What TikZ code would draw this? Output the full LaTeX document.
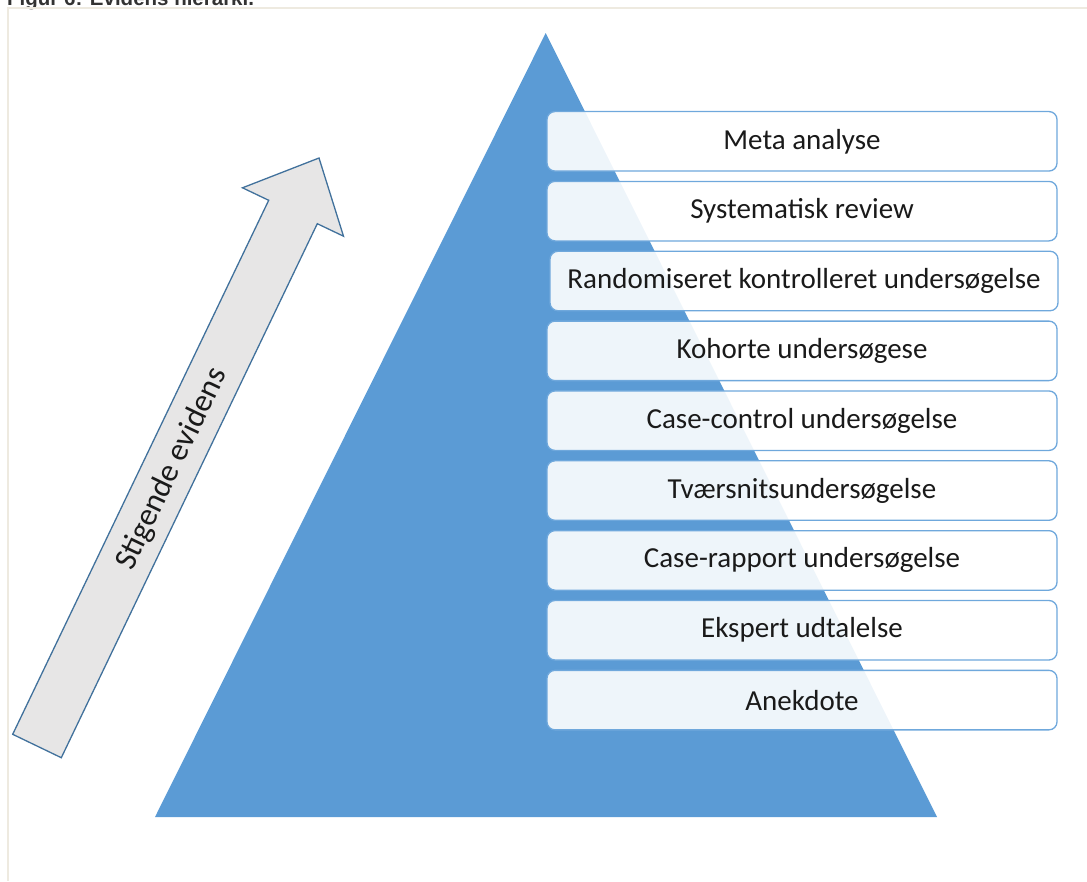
\documentclass[tikz,border=0pt]{standalone}
\usepackage{fontspec}
\setmainfont{Carlito}
\newfontfamily\capfont{Liberation Sans}
\definecolor{triblue}{HTML}{5B9BD5}
\definecolor{boxline}{HTML}{6FA8DC}
\definecolor{arrfill}{HTML}{E7E6E6}
\definecolor{arrline}{HTML}{41719C}
\definecolor{frameline}{HTML}{EEEAE0}
\definecolor{captext}{HTML}{333333}
\definecolor{boxtext}{HTML}{1A1A1A}
\tikzset{
  level/.style={draw=boxline, line width=1.3pt, rounded corners=8pt,
    fill=white, fill opacity=0.9, text opacity=1, text=boxtext,
    minimum width=510pt, minimum height=59.5pt, inner sep=0pt,
    font=\fontsize{29}{34}\selectfont},
  arrowlabel/.style={text=boxtext, font=\fontsize{32}{38}\selectfont, inner sep=0pt},
}
\begin{document}
\begin{tikzpicture}[x=1pt,y=-1pt]
\useasboundingbox (0,0) rectangle (1087,881);
\clip (0,0) rectangle (1087,881);
% caption (cut off at the top)
\node[anchor=base west, inner sep=0pt, text=captext, font=\capfont\bfseries\fontsize{20.5}{24}\selectfont] (cap) at (7,5) {Figur 6: Evidens hierarki.};
% frame
\draw[frameline, line width=2pt] (1087,8) -- (8,8) -- (8,881);
% pyramid
\fill[triblue] (545.7,33) -- (937,817) -- (155,817) -- cycle;
% arrow
\draw[arrline, fill=arrfill, line width=1.3pt, line join=miter]
  (12.7,734.3) -- (268.7,200.3) -- (242.5,187.8) -- (319,158) -- (343.5,236.2)
  -- (317.3,223.7) -- (61.3,757.7) -- cycle;
\node[arrowlabel, rotate=64.37] (lab) at (172,469) {Stigende evidens};
% levels
\node[level] (l1) at (802,141.3) {Meta analyse};
\node[level] (l2) at (802,211.15) {Systematisk review};
\node[level, minimum width=508pt] (l3) at (804,281.0) {Randomiseret kontrolleret undersøgelse};
\node[level] (l4) at (802,350.85) {Kohorte undersøgese};
\node[level] (l5) at (802,420.7) {Case-control undersøgelse};
\node[level] (l6) at (802,490.55) {Tværsnitsundersøgelse};
\node[level] (l7) at (802,560.4) {Case-rapport undersøgelse};
\node[level] (l8) at (802,630.25) {Ekspert udtalelse};
\node[level] (l9) at (802,700.1) {Anekdote};
\end{tikzpicture}
\end{document}
